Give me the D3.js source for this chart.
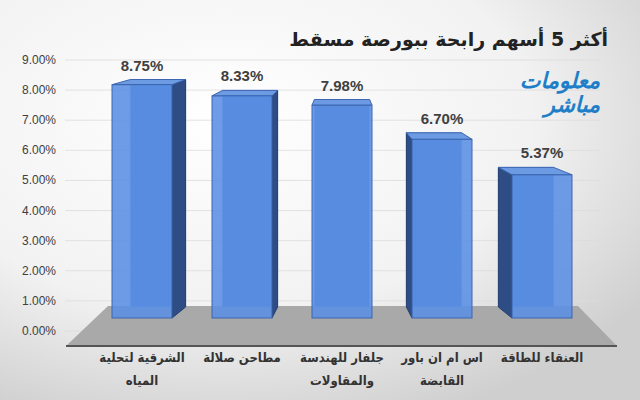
<!DOCTYPE html><html><head><meta charset="utf-8"><script src="https://cdn.jsdelivr.net/npm/d3@7"></script>
<style>body{margin:0}svg{display:block}</style></head><body><svg id="c" width="640" height="400"></svg><script>
const categories=[["الشرقية لتحلية","المياه"],["مطاحن صلالة"],["جلفار للهندسة","والمقاولات"],["اس ام ان باور","القابضة"],["العنقاء للطاقة"]];
const values=[8.75,8.33,7.98,6.70,5.37];
const ticks=[0,1,2,3,4,5,6,7,8,9];
const svg=d3.select("#c");
const defs=svg.append("defs");
const g=defs.append("radialGradient").attr("id","bg").attr("cx","35%").attr("cy","30%").attr("r","80%");
g.append("stop").attr("offset","0").attr("stop-color","#ffffff");
g.append("stop").attr("offset","0.6").attr("stop-color","#f2f2f2");
g.append("stop").attr("offset","1").attr("stop-color","#cfcfcf");
svg.append("rect").attr("width",640).attr("height",400).attr("fill","url(#bg)");
const x=d3.scaleBand().domain(d3.range(5)).range([92,592]).paddingInner(0.4).paddingOuter(0.2);
const yF=d3.scaleLinear().domain([0,9]).range([318,78]);
const yB=d3.scaleLinear().domain([0,9]).range([307,73]);
const yAx=d3.scaleLinear().domain([0,9]).range([331,60]);
const vx=342,k=0.92,bx=v=>vx+(v-vx)*k;
svg.append("g").selectAll("line").data(ticks).join("line").attr("x1",65).attr("x2",600)
 .attr("y1",d=>yAx(d)).attr("y2",d=>yAx(d)).attr("stroke","#dcdcdc").attr("stroke-width",0.8);
svg.append("g").selectAll("text").data(ticks).join("text").attr("x",56).attr("y",d=>yAx(d)+4)
 .attr("text-anchor","end").attr("font-family","Liberation Sans, Arial").attr("font-size",12).attr("fill","#404040")
 .text(d=>d3.format(".2%")(d/100));
svg.append("polygon").attr("points",[[66,346],[617,346],[578,306],[108,306]].map(p=>p.join(",")).join(" ")).attr("fill","#a9a9a9");
svg.append("line").attr("x1",66).attr("x2",617).attr("y1",346).attr("y2",346).attr("stroke","#555").attr("stroke-width",2);
const bars=svg.append("g");
values.forEach((v,i)=>{
 const l=x(i),r=x(i)+x.bandwidth(),t=yF(v),b=yF(0),bl=bx(l),br=bx(r),bt=yB(v),bb=yB(0);
 const gg=bars.append("g");
 const P=a=>a.map(p=>p.join(",")).join(" ");
 gg.append("polygon").attr("points",P([[bl,bt],[br,bt],[br,bb],[bl,bb]])).attr("fill","#4a7cc9").attr("stroke","#86a8e0").attr("stroke-width",1);
 if(br>r) gg.append("polygon").attr("points",P([[r,t],[br,bt],[br,bb],[r,b]])).attr("fill","#2e4d85").attr("stroke","#253f70");
 if(bl<l) gg.append("polygon").attr("points",P([[l,t],[bl,bt],[bl,bb],[l,b]])).attr("fill","#2e4d85").attr("stroke","#253f70");
 gg.append("polygon").attr("points",P([[l,t],[r,t],[br,bt],[bl,bt]])).attr("fill","#6d9be3").attr("stroke","#3c66b0");
 gg.append("rect").attr("x",l).attr("y",t).attr("width",r-l).attr("height",b-t).attr("fill","#5a8ee2").attr("fill-opacity",0.88).attr("stroke","#3c66b0");
 gg.append("text").attr("x",(l+r)/2).attr("y",bt-9).attr("text-anchor","middle").attr("font-family","Liberation Sans, Arial")
  .attr("font-weight","bold").attr("font-size",15).attr("fill","#404040").text(d3.format(".2%")(v/100));
 const tx=gg.append("text").attr("text-anchor","middle").attr("font-family","DejaVu Sans Condensed, DejaVu Sans").attr("font-weight","bold").attr("font-size",13).attr("fill","#333");
 categories[i].forEach((s,j)=>tx.append("tspan").attr("x",(l+r)/2).attr("y",362+j*23).text(s));
});
svg.append("text").attr("x",608).attr("y",46).attr("text-anchor","start").attr("direction","rtl").attr("font-family","DejaVu Sans, Noto Sans")
 .attr("font-weight","bold").attr("font-size",19).attr("fill","#222").text("أكثر 5 أسهم رابحة ببورصة مسقط");
svg.append("text").attr("x",600).attr("y",88).attr("text-anchor","end").attr("font-family","DejaVu Sans").attr("font-weight","bold").attr("font-style","italic").attr("font-size",22).attr("fill","#1e7fc8").text("معلومات");
svg.append("text").attr("x",600).attr("y",112).attr("text-anchor","end").attr("font-family","DejaVu Sans").attr("font-weight","bold").attr("font-style","italic").attr("font-size",22).attr("fill","#1e7fc8").text("مباشر");
</script></body></html>
